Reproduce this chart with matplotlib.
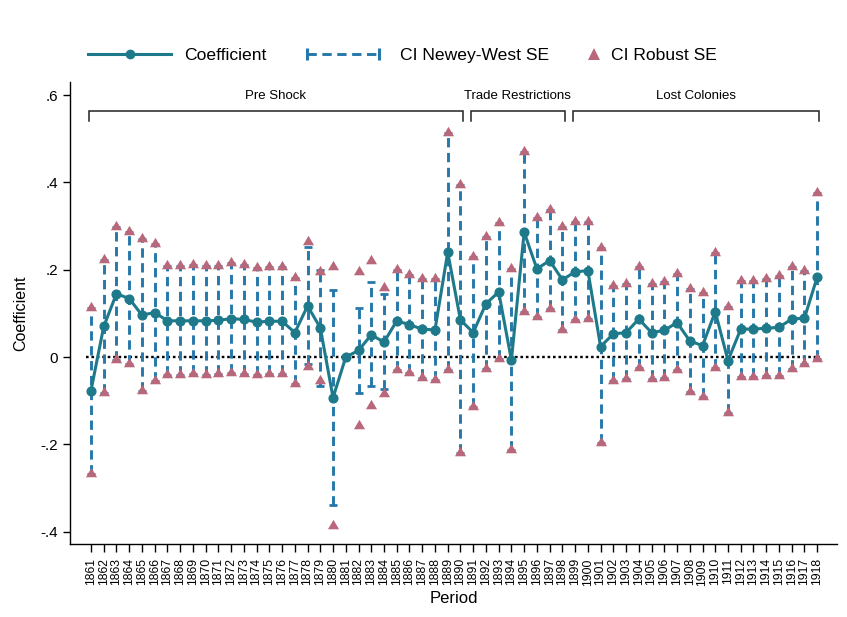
import numpy as np
import matplotlib
matplotlib.use("Agg")
from matplotlib import pyplot as plt
from matplotlib.lines import Line2D
from matplotlib.path import Path

plt.rcParams['font.family'] = ['Liberation Sans', 'DejaVu Sans']

# data
years = list(range(1861, 1919))
coef = [-0.077, 0.070, 0.145, 0.134, 0.096, 0.102, 0.083, 0.083, 0.083, 0.083,
        0.084, 0.088, 0.086, 0.080, 0.082, 0.082, 0.056, 0.117, 0.067, -0.093,
        0.000, 0.015, 0.051, 0.034, 0.083, 0.074, 0.064, 0.062, 0.240, 0.085,
        0.056, 0.122, 0.149, -0.007, 0.286, 0.202, 0.221, 0.177, 0.195, 0.198,
        0.024, 0.053, 0.056, 0.087, 0.056, 0.061, 0.079, 0.037, 0.026, 0.104,
        -0.008, 0.064, 0.064, 0.066, 0.068, 0.087, 0.089, 0.183]
rob_hi = [0.113, 0.223, 0.297, 0.287, 0.270, 0.260, 0.208, 0.208, 0.211, 0.209,
          0.209, 0.215, 0.211, 0.205, 0.206, 0.206, 0.180, 0.263, 0.194, 0.206,
          np.nan, 0.194, 0.221, 0.158, 0.200, 0.188, 0.178, 0.178, 0.514, 0.393,
          0.228, 0.275, 0.306, 0.202, 0.470, 0.319, 0.336, 0.298, 0.309, 0.310,
          0.250, 0.163, 0.168, 0.206, 0.168, 0.171, 0.191, 0.156, 0.146, 0.238,
          0.114, 0.174, 0.174, 0.178, 0.185, 0.206, 0.198, 0.375]
rob_lo = [-0.267, -0.082, -0.007, -0.016, -0.077, -0.054, -0.041, -0.041, -0.040, -0.041,
          -0.040, -0.036, -0.038, -0.042, -0.040, -0.040, -0.062, -0.022, -0.054, -0.386,
          np.nan, -0.159, -0.113, -0.084, -0.030, -0.036, -0.047, -0.053, -0.030, -0.220,
          -0.114, -0.027, -0.004, -0.214, 0.104, 0.091, 0.110, 0.061, 0.085, 0.087,
          -0.197, -0.054, -0.050, -0.024, -0.050, -0.047, -0.030, -0.080, -0.091, -0.026,
          -0.128, -0.045, -0.046, -0.044, -0.044, -0.028, -0.016, -0.004]
nw_hi = [0.113, 0.223, 0.297, 0.287, 0.270, 0.260, 0.208, 0.208, 0.211, 0.209,
         0.209, 0.215, 0.211, 0.205, 0.206, 0.206, 0.180, 0.251, 0.200, 0.154,
         np.nan, 0.112, 0.172, 0.144, 0.200, 0.188, 0.178, 0.178, 0.514, 0.393,
         0.228, 0.275, 0.306, 0.202, 0.470, 0.319, 0.336, 0.298, 0.309, 0.310,
         0.250, 0.163, 0.168, 0.206, 0.168, 0.171, 0.191, 0.156, 0.146, 0.238,
         0.114, 0.174, 0.174, 0.178, 0.185, 0.206, 0.198, 0.375]
nw_lo = [-0.267, -0.082, -0.007, -0.016, -0.077, -0.054, -0.041, -0.041, -0.040, -0.041,
         -0.040, -0.036, -0.038, -0.042, -0.040, -0.040, -0.062, -0.015, -0.067, -0.340,
         np.nan, -0.082, -0.067, -0.074, -0.030, -0.036, -0.047, -0.053, -0.030, -0.220,
         -0.114, -0.027, -0.004, -0.214, 0.104, 0.091, 0.110, 0.061, 0.085, 0.087,
         -0.197, -0.054, -0.050, -0.024, -0.050, -0.047, -0.030, -0.080, -0.091, -0.026,
         -0.128, -0.045, -0.046, -0.044, -0.044, -0.028, -0.016, -0.004]

# period brackets
periods = ["Pre Shock", "Trade Restrictions", "Lost Colonies"]
period_start = [1861, 1891, 1899]
period_end = [1890, 1898, 1918]

ytick_vals = [-0.4, -0.2, 0, 0.2, 0.4, 0.6]
ytick_labels = ["-.4", "-.2", "0", ".2", ".4", ".6"]

c_coef = "#1e7a8a"
c_nw = "#2678aa"
c_rob = "#b8687a"

# triangle sitting a little above its point, so it hides the cap like in Stata
tri = Path([(-1, -0.5), (1, -0.5), (0, 1.2), (-1, -0.5)],
           [Path.MOVETO, Path.LINETO, Path.LINETO, Path.CLOSEPOLY])

fig = plt.figure(figsize=(8.47, 6.17), dpi=100)
ax = fig.add_axes([0.0826, 0.1178, 0.9055, 0.7493])

# zero line
ax.plot([1860.6, 1918.2], [0, 0], color="black", lw=1.7,
        linestyle=(0, (1.1, 1.2)), zorder=1)

# Newey-West CI
yrs = np.array(years, dtype=float)
c = np.array(coef)
lo = np.array(nw_lo)
hi = np.array(nw_hi)
eb = ax.errorbar(yrs, c, yerr=[c - lo, hi - c], fmt="none", ecolor=c_nw,
                 elinewidth=2.1, capsize=2.8, capthick=2.0, zorder=2)
eb[2][0].set_linestyle((0, (3.2, 1.9)))

# robust CI
ax.plot(yrs, rob_hi, ls="none", marker=tri, ms=9.6, color=c_rob, mew=0, zorder=3)
ax.plot(yrs, rob_lo, ls="none", marker=tri, ms=9.6, color=c_rob, mew=0, zorder=3)

# coefficient
ax.plot(yrs, coef, color=c_coef, lw=2.2, marker="o", ms=6.3, zorder=4)

# brackets
for name, s, e in zip(periods, period_start, period_end):
    x0, x1 = s - 0.18, e + 0.18
    ax.plot([x0, x0, x1, x1], [0.541, 0.563, 0.563, 0.541], color="#222222",
            lw=1.1, solid_joinstyle="miter", zorder=2)
    ax.text((x0 + x1) / 2, 0.597, name, ha="center", va="center", fontsize=9.5)

ax.set_xlim(1859.35, 1919.55)
ax.set_ylim(-0.429, 0.630)
ax.set_xticks(years)
ax.set_xticklabels([str(y) for y in years], rotation=90, fontsize=8.7)
ax.set_yticks(ytick_vals)
ax.set_yticklabels(ytick_labels, fontsize=11)
ax.tick_params(axis="x", length=6, width=1.0, pad=4)
ax.tick_params(axis="y", length=4.8, width=1.0, pad=3.6)
for sp in ["top", "right"]:
    ax.spines[sp].set_visible(False)
for sp in ["left", "bottom"]:
    ax.spines[sp].set_linewidth(1.0)
ax.set_xlabel("Period", fontsize=12, labelpad=4)
ax.set_ylabel("Coefficient", fontsize=11.5, labelpad=9)

# legend, one entry at a time so spacing matches
W, H = 847.0, 617.0
ly = 1 - 55 / H
h1 = Line2D([], [], color=c_coef, lw=2.2, marker="o", ms=6)
h2 = Line2D([], [], color=c_nw, lw=2.1, linestyle=(0, (3.2, 1.9)), marker="|",
            ms=8, mew=2.2)
h3 = Line2D([], [], color=c_rob, lw=0, marker="^", ms=8.5, mew=0)
common = dict(frameon=False, fontsize=12.6, loc="center left", borderpad=0,
              borderaxespad=0)
fig.legend([h1], ["Coefficient"], bbox_to_anchor=(88 / W, ly),
           handlelength=4.75, handletextpad=0.77, numpoints=1, **common)
fig.legend([h2], ["CI Newey-West SE"], bbox_to_anchor=(302 / W, ly),
           handlelength=4.7, handletextpad=0.9, numpoints=2, **common)
fig.legend([h3], ["CI Robust SE"], bbox_to_anchor=(587 / W, ly),
           handlelength=0.8, handletextpad=0.58, numpoints=1, **common)

fig.savefig("out.png", dpi=100)
